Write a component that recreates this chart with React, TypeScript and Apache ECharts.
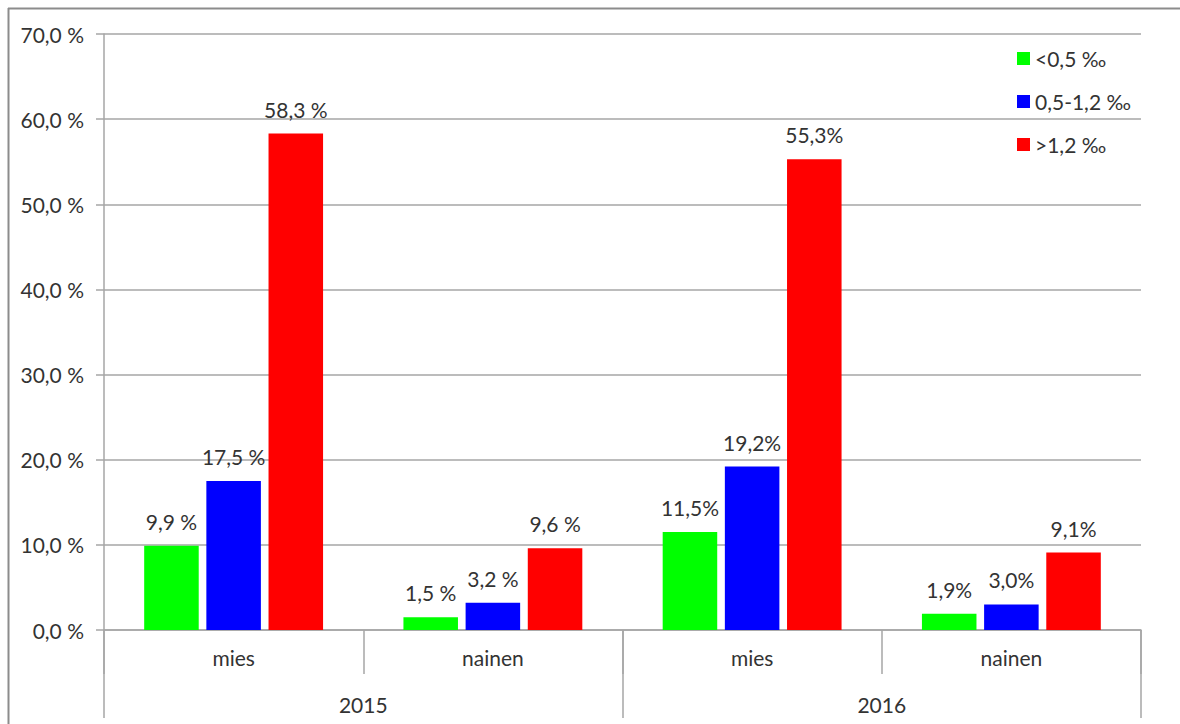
import React, { useEffect, useRef } from "react";
import * as echarts from "echarts";

const genders = ["mies", "nainen", "mies", "nainen"];
const years = ["2015", "2016"];
const seriesNames = ["<0,5 ‰", "0,5-1,2 ‰", ">1,2 ‰"];
const lowValues = [9.9, 1.5, 11.5, 1.9];
const midValues = [17.5, 3.2, 19.2, 3.0];
const highValues = [58.3, 9.6, 55.3, 9.1];
const seriesColors = ["#00ff00", "#0000ff", "#ff0000"];
const yTicks = { min: 0, max: 70, interval: 10 };

const FONT = "Lato";
const FS = 21;
const TXT = "#333333";
const GRID = "#a6a6a6";

function fmtLabel(v: number, idx: number) {
  const s = v.toFixed(1).replace(".", ",");
  return idx < 2 ? s + " %" : s + "%";
}

export default function App() {
  const ref = useRef<HTMLDivElement>(null);
  useEffect(() => {
    if (!ref.current) return;
    const chart = echarts.init(ref.current, undefined, { renderer: "svg" });
    const allValues = [lowValues, midValues, highValues];
    chart.setOption({
      animation: false,
      textStyle: { fontFamily: FONT },
      grid: { left: 104, right: 39, top: 34, bottom: 94, containLabel: false },
      legend: {
        orient: "vertical",
        left: 1012,
        top: 43,
        itemWidth: 13,
        itemHeight: 13,
        itemGap: 22,
        icon: "rect",
        textStyle: { fontFamily: FONT, fontSize: FS, color: TXT },
        data: seriesNames,
      },
      xAxis: [
        {
          type: "category",
          data: genders,
          position: "bottom",
          axisLine: { show: true, lineStyle: { color: GRID, width: 1.5 } },
          axisTick: { show: true, length: 44, interval: 0, lineStyle: { color: GRID, width: 1.5 } },
          axisLabel: { fontFamily: FONT, fontSize: FS, color: TXT, margin: 17, interval: 0 },
        },
        {
          type: "category",
          data: years,
          position: "bottom",
          axisLine: { show: false },
          axisTick: { show: true, length: 88, interval: 0, lineStyle: { color: GRID, width: 1.5 } },
          axisLabel: { fontFamily: FONT, fontSize: FS, color: TXT, margin: 64, interval: 0 },
        },
      ],
      yAxis: {
        type: "value",
        min: yTicks.min,
        max: yTicks.max,
        interval: yTicks.interval,
        axisLine: { show: true, lineStyle: { color: GRID, width: 1.5 } },
        axisTick: { show: true, length: 8, lineStyle: { color: GRID, width: 1.5 } },
        splitLine: { show: true, lineStyle: { color: GRID, width: 1.5 } },
        axisLabel: {
          fontFamily: FONT,
          fontSize: FS,
          color: TXT,
          margin: 20,
          formatter: (v: number) => v.toFixed(1).replace(".", ",") + " %",
        },
      },
      graphic: [
        { type: "line", shape: { x1: 8, y1: 8.5, x2: 1180, y2: 8.5 }, style: { stroke: "#8c8c8c", lineWidth: 2 } },
        { type: "line", shape: { x1: 8.5, y1: 8, x2: 8.5, y2: 724 }, style: { stroke: "#8c8c8c", lineWidth: 2 } },
      ],
      series: seriesNames.map((name, i) => ({
        name,
        type: "bar",
        xAxisIndex: 0,
        data: allValues[i],
        barCategoryGap: "31%",
        barGap: "14%",
        itemStyle: { color: seriesColors[i] },
        label: {
          show: true,
          position: "top",
          distance: 14,
          fontFamily: FONT,
          fontSize: FS,
          color: TXT,
          formatter: (p: any) => fmtLabel(p.value, p.dataIndex),
        },
      })),
    });
    return () => chart.dispose();
  }, []);
  return (
    <div
      ref={ref}
      style={{ position: "absolute", left: 0, top: 0, width: 1180, height: 724, background: "#fff" }}
    />
  );
}
